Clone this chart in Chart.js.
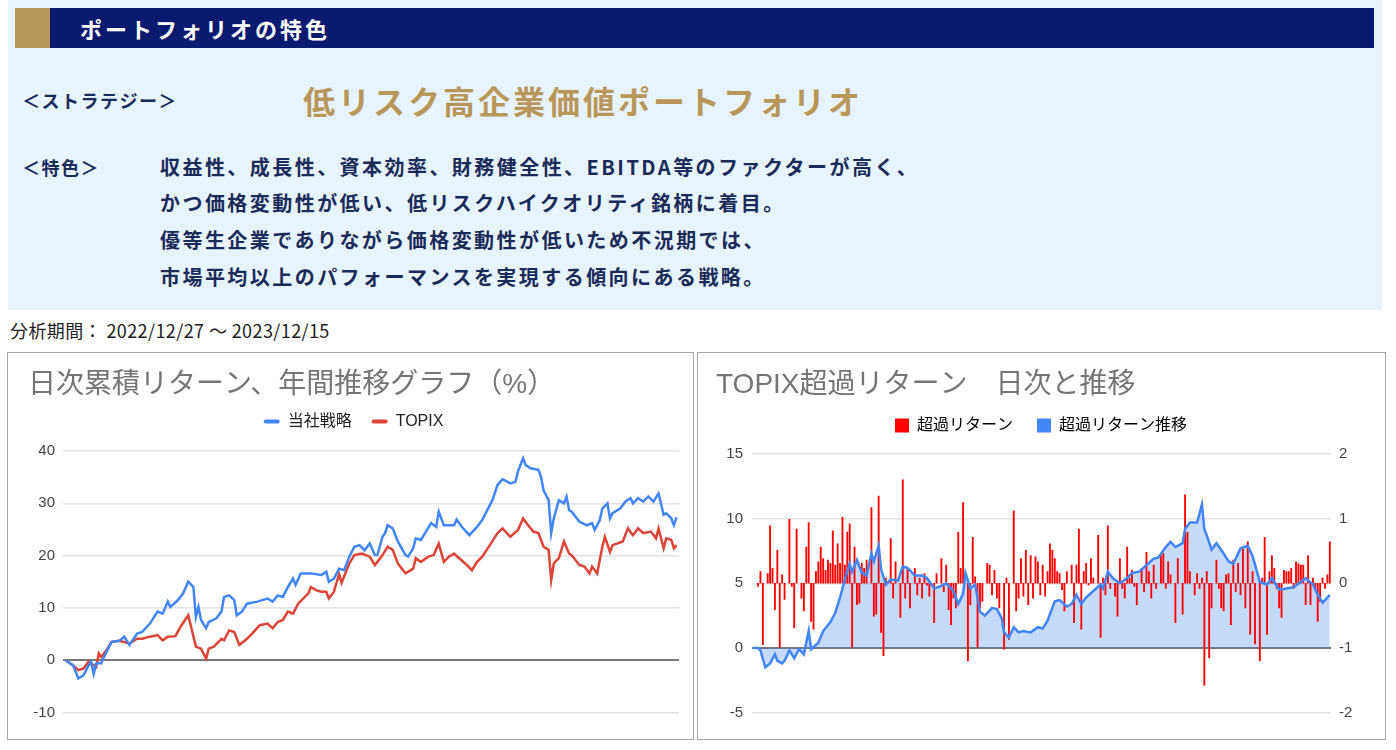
<!DOCTYPE html>
<html lang="ja">
<head>
<meta charset="utf-8">
<script src="https://cdn.jsdelivr.net/npm/chart.js@4.4.1/dist/chart.umd.min.js"></script>
<style>
  html, body { margin: 0; padding: 0; }
  body { width: 1396px; height: 750px; background: #ffffff; position: relative; overflow: hidden;
         font-family: "Noto Sans CJK JP", "Noto Sans", sans-serif; }
  .abs { position: absolute; white-space: nowrap; }
  #panel { left: 8px; top: 0; width: 1374px; height: 310px; background: #e8f4fd; }
  #hdr { left: 15px; top: 8px; width: 1359px; height: 40px; background: #0b1a6e; }
  #gold { left: 15px; top: 8px; width: 35px; height: 40px; background: #b8975a; }
  #hdrText { left: 80px; top: 8px; height: 40px; line-height: 40px; color: #fff; font-size: 22px; font-weight: 700; letter-spacing: 3px; }
  .lbl { color: #1c2a5a; font-size: 18px; font-weight: 700; letter-spacing: 1.5px; height: 30px; line-height: 30px; }
  #strat { left: 303px; top: 80px; height: 40px; line-height: 40px; color: #b8975a; font-size: 32px; font-weight: 700; letter-spacing: 3px; }
  #body { left: 160px; top: 148.6px; color: #1c2a5a; font-size: 20px; font-weight: 700; letter-spacing: 2.45px; line-height: 36.7px; }
  #period { left: 10px; top: 318px; height: 24px; line-height: 24px; color: #222; font-size: 18px; letter-spacing: 0.4px; }
  .box { border: 1px solid #a6a6a6; box-sizing: border-box; background: #fff; }
</style>
</head>
<body>
<div class="abs" id="panel"></div>
<div class="abs" id="hdr"></div>
<div class="abs" id="gold"></div>
<div class="abs" id="hdrText">ポートフォリオの特色</div>
<div class="abs lbl" style="left:22px;top:85px;">＜ストラテジー＞</div>
<div class="abs" id="strat">低リスク高企業価値ポートフォリオ</div>
<div class="abs lbl" style="left:22px;top:152px;">＜特色＞</div>
<div class="abs" id="body">収益性、成長性、資本効率、財務健全性、EBITDA等のファクターが高く、<br>かつ価格変動性が低い、低リスクハイクオリティ銘柄に着目。<br>優等生企業でありながら価格変動性が低いため不況期では、<br>市場平均以上のパフォーマンスを実現する傾向にある戦略。</div>
<div class="abs" id="period">分析期間： 2022/12/27 ～ 2023/12/15</div>

<div class="abs box" style="left:7px;top:352px;width:687px;height:388px;"></div>
<div class="abs box" style="left:697px;top:352px;width:689px;height:388px;"></div>
<canvas id="c1" class="abs" style="left:8px;top:353px;" width="685" height="386"></canvas>
<canvas id="c2" class="abs" style="left:698px;top:353px;" width="687" height="386"></canvas>

<script>
// ---- Data (trading-day index from 2022/12/27, value) ----
const leftTitle = '日次累積リターン、年間推移グラフ（%）';
const rightTitle = 'TOPIX超過リターン　日次と推移';
const seriesNames = ['当社戦略', 'TOPIX'];
const excessNames = ['超過リターン', '超過リターン推移'];
const leftTicks = [-10, 0, 10, 20, 30, 40];
const rightLeftTicks = [-5, 0, 5, 10, 15];
const rightRightTicks = [-2, -1, 0, 1, 2];

// 当社戦略 cumulative return (%)
const strategySeries = [[0,0],[3,-1],[5,-3.5],[7,-2.9],[9,-1],[10,-0.3],[11,-2.6],[12,-0.6],[14,-0.6],[15,0.6],[18,3.5],[21,3.7],[23,4.5],[25,2.9],[28,5.1],[30,5.4],[33,7],[36,9.3],[38,8.9],[40,11.2],[41,10.2],[44,11.5],[46,12.8],[48,15],[50,14],[51,8.3],[52,10.2],[53,7.7],[55,6.1],[56,7.3],[59,8],[61,9.3],[62,12.1],[64,12.4],[66,11.5],[67,8.6],[69,9.3],[71,10.8],[75,11.2],[79,11.8],[81,11.2],[83,12.4],[85,12.1],[87,14],[89,15.6],[90,14.4],[92,16.6],[96,16.6],[100,16.3],[102,16.9],[103,15],[105,15.6],[107,17.5],[109,17.2],[111,19.8],[113,21.7],[115,22],[117,21],[119,22.3],[121,20.1],[122,20.1],[124,23.6],[125,24.3],[126,25.8],[128,25.2],[130,22.7],[133,20.1],[134,19.8],[136,21.4],[137,23.3],[139,23],[141,24.6],[143,26.2],[145,25.5],[146,28.4],[148,25.8],[152,25.8],[153,26.9],[155,25.5],[158,23.9],[161,25.5],[163,26.8],[165,28.7],[167,30.6],[169,33.5],[171,34.6],[174,33.8],[176,34.1],[177,36.1],[179,38.6],[180,37.3],[182,36.7],[185,36.4],[186,35.1],[187,32.5],[189,30.6],[190,24.3],[191,27.1],[193,30.6],[195,30],[196,31.3],[197,28.7],[198,28.4],[201,26.5],[204,25.8],[206,26.2],[207,24.9],[209,26.8],[210,29],[212,30],[213,27.1],[214,28.1],[217,29],[219,30.3],[221,31],[222,30],[224,31],[226,30.3],[228,31.3],[230,30.3],[232,31.9],[234,27.8],[235,28.1],[237,27.1],[238,25.8],[239,27.3]];

// TOPIX cumulative return (%)
const topixSeries = [[0,0],[3,-1],[5,-1.9],[7,-1.6],[9,-0.3],[10,-0.6],[12,-1.3],[13,1.3],[14,0.6],[16,1.9],[18,3.5],[21,3.7],[25,3.2],[28,4.1],[30,4.1],[33,4.5],[36,4.8],[38,3.8],[40,4.5],[43,4.6],[45,6.4],[48,8.6],[51,2.6],[53,2.2],[55,0.3],[56,2.2],[58,2.6],[61,4.1],[62,3.8],[64,5.7],[66,5.4],[68,2.9],[71,4.1],[73,5.1],[76,6.7],[79,7],[81,6.1],[83,7.3],[85,7.7],[87,9.3],[89,8.9],[91,10.8],[95,12.8],[96,14],[98,13.4],[100,13.1],[102,13.1],[103,11.8],[105,13.1],[107,16.5],[108,14.8],[111,18.5],[113,20.1],[116,20.4],[119,19.8],[121,18.2],[122,18.8],[124,20.1],[126,21.7],[128,21.1],[130,18.5],[133,16.6],[136,17.5],[137,19.5],[139,18.8],[142,19.8],[144,20.1],[146,22.3],[148,18.8],[150,19.8],[152,20.4],[154,19.5],[157,18.2],[159,17.2],[161,18.8],[163,19.8],[166,22],[169,24.3],[171,25.2],[174,23.6],[177,24.9],[179,27.1],[181,25.8],[183,24.6],[185,24.3],[187,21.7],[189,21.1],[190,15.3],[191,18.5],[193,19.5],[195,22.7],[197,20.4],[198,20.1],[201,18.2],[203,17.9],[205,16.6],[206,17.9],[208,16.6],[210,21.7],[211,23.6],[213,20.7],[214,22],[218,22.7],[220,25.2],[222,23.9],[224,25.2],[226,24.3],[229,24.6],[231,23.3],[232,25.2],[234,21.4],[235,23.3],[237,23],[238,21.4],[239,22]];

// 超過リターン推移 (cumulative excess, left axis)
const trendSeries = [[0,0],[2,0],[3,-0.2],[5,-1.5],[7,-1.2],[9,-0.5],[10,-1],[12,-1.2],[13,-1],[15,-0.2],[17,-0.8],[19,-0.1],[21,-0.5],[23,1.3],[24,-0.1],[27,0.4],[29,1.3],[32,2],[34,2.7],[36,3.9],[38,5.3],[40,6.5],[41,5.9],[43,6.8],[45,5.8],[47,5.6],[49,7.3],[50,6.7],[52,7.9],[53,6.1],[55,4.9],[57,5.3],[60,5.2],[62,6.3],[64,6.2],[67,5.6],[70,5.6],[72,5.4],[75,4.6],[78,4.8],[80,5],[83,4.4],[85,3.4],[87,4.2],[88,5.8],[90,4.6],[92,4.9],[94,2.8],[96,2.5],[99,3.1],[101,3],[103,2.3],[104,1.2],[106,0.8],[108,1.6],[110,1.2],[112,1.3],[115,1.2],[118,1.6],[120,1.5],[122,2.1],[125,3.6],[127,3.7],[130,3.2],[132,3.4],[134,4.1],[136,3.4],[138,3.9],[141,4.4],[144,4.9],[145,4.6],[147,5.9],[149,5.4],[152,5],[155,5.4],[157,5.8],[160,5.9],[163,6.4],[166,6.9],[168,7],[171,7.8],[173,8.2],[175,7.8],[178,8.1],[179,9.2],[181,9.7],[184,9.7],[186,11.1],[187,9.2],[188,8.7],[190,7.6],[192,8.1],[195,7.3],[197,6.7],[199,6.5],[202,7.7],[205,7.9],[207,7.1],[210,5.1],[213,4.9],[215,5.4],[218,4.5],[221,4.6],[224,4.7],[227,5.1],[229,5.4],[232,4.9],[234,4.1],[236,3.5],[239,4.1]];

// 超過リターン (daily excess, right axis)
const dailySeries = [[2,-0.05],[3,0.18],[4,-0.95],[6,0.15],[7,0.89],[8,0.23],[9,-0.41],[10,0.51],[11,-0.99],[12,0.13],[13,-0.25],[15,0.99],[16,-0.05],[17,-0.69],[18,0.84],[20,-0.23],[21,-0.43],[22,0.56],[23,0.94],[24,-0.59],[25,-0.71],[26,0.18],[27,0.33],[28,0.56],[29,0.38],[30,0.2],[31,0.36],[32,0.31],[33,0.81],[34,0.28],[35,0.61],[36,0.31],[37,1.02],[38,0.28],[39,0.79],[40,0.92],[41,-0.99],[42,0.56],[43,-0.33],[44,-0.31],[45,0.31],[46,0.23],[47,0.36],[49,1.17],[50,-0.51],[51,-0.48],[52,1.35],[53,-0.76],[54,-1.12],[55,0.08],[57,0.69],[58,-0.23],[59,0.33],[61,-0.53],[62,1.6],[63,-0.23],[64,0.23],[65,-0.38],[67,0.23],[68,-0.18],[69,0.08],[70,-0.23],[71,0.15],[72,-0.03],[73,-0.2],[75,-0.61],[76,0.15],[78,0.38],[79,-0.13],[80,0.28],[81,-0.41],[82,-0.64],[83,-0.23],[84,-0.38],[85,0.79],[86,0.23],[87,1.25],[89,-1.2],[90,-0.33],[91,0.71],[92,0.1],[93,-0.99],[94,-0.38],[95,-0.28],[97,0.31],[98,0.28],[99,-0.18],[100,0.2],[101,-0.23],[102,-0.38],[104,-1.02],[105,0.08],[106,-0.87],[108,1.12],[109,-0.43],[110,-0.23],[111,0.38],[112,-0.2],[113,0.51],[114,-0.33],[115,0.43],[116,-0.23],[117,0.41],[118,0.33],[119,-0.18],[120,0.28],[121,-0.2],[122,0.18],[123,0.61],[124,0.51],[125,0.38],[126,0.18],[127,0.15],[128,-0.1],[129,-0.43],[130,0.18],[132,0.28],[133,-0.61],[134,0.28],[135,0.84],[136,-0.71],[137,0.18],[138,0.31],[139,-0.03],[140,0.38],[141,0.08],[143,0.74],[144,-0.84],[145,0.08],[146,-0.18],[147,0.89],[148,-0.08],[150,-0.2],[151,-0.51],[152,0.38],[153,-0.08],[154,-0.23],[155,0.56],[156,0.08],[157,0.2],[158,-0.05],[159,-0.33],[161,0.23],[162,-0.13],[163,0.48],[164,0.18],[165,-0.23],[166,0.28],[167,-0.08],[169,0.43],[170,0.46],[171,-0.08],[172,0.33],[173,0.13],[175,-0.61],[176,0.38],[178,-0.48],[179,1.37],[180,0.79],[181,0.18],[183,-0.18],[184,0.15],[185,-0.08],[186,0.08],[187,-1.58],[188,0.18],[189,-1.15],[190,-0.38],[192,0.36],[193,-0.08],[194,-0.38],[195,-0.43],[196,0.13],[197,0.15],[198,-0.64],[199,0.36],[200,-0.13],[201,0.31],[202,-0.18],[203,0.53],[204,-0.38],[205,0.64],[206,-0.79],[207,0.18],[208,-0.94],[210,-1.2],[211,0.08],[212,0.71],[213,-0.79],[214,0.18],[215,0.43],[216,0.23],[217,-0.08],[218,-0.38],[219,-0.53],[220,0.2],[221,0.18],[222,0.18],[223,0.23],[224,-0.08],[225,0.33],[226,0.3],[227,0.28],[228,0.28],[229,-0.33],[230,0.43],[231,-0.33],[232,0.08],[233,-0.1],[234,-0.59],[235,-0.28],[236,0.08],[237,-0.08],[238,0.13],[239,0.64]];

// ---- Chart setup ----
const FONT = "'Liberation Sans', 'Noto Sans CJK JP', sans-serif";
const toXY = arr => arr.map(p => ({ x: p[0], y: p[1] }));
const gridColor = c => (c.tick && c.tick.value === 0) ? '#777777' : '#e3e3e3';
const gridWidth = c => (c.tick && c.tick.value === 0) ? 2 : 1.5;
const fixedTicks = list => (axis) => { axis.ticks = list.map(v => ({ value: v })); };

function titleOpts(text) {
  return { display: true, text: text, align: 'start', color: '#757575',
           font: { family: FONT, size: 28, weight: 'normal', lineHeight: 0.6 },
           padding: { top: 23.6, bottom: 0 } };
}
function spacer(h) {
  return { display: true, text: '', weight: 500, font: { size: 10, lineHeight: 1 },
           padding: { top: h - 10, bottom: 0 } };
}

function draw() {
  Chart.defaults.font.family = FONT;

  new Chart(document.getElementById('c1'), {
    type: 'line',
    data: {
      datasets: [
        { label: seriesNames[0], data: toXY(strategySeries), borderColor: '#4285f4', backgroundColor: '#4285f4',
          borderWidth: 2.5, pointRadius: 0, tension: 0, fill: false },
        { label: seriesNames[1], data: toXY(topixSeries), borderColor: '#db4437', backgroundColor: '#db4437',
          borderWidth: 2.5, pointRadius: 0, tension: 0, fill: false }
      ]
    },
    options: {
      responsive: false, animation: false, devicePixelRatio: 1,
      layout: { padding: { left: 20, right: 14, top: 0, bottom: 26.5 } },
      plugins: {
        title: titleOpts(leftTitle),
        subtitle: spacer(11.6),
        legend: {
          display: true, position: 'top', align: 'center',
          labels: {
            boxWidth: 16, boxHeight: 4, padding: 20, color: '#222',
            font: { family: FONT, size: 16 }, useBorderRadius: true, borderRadius: 2,
            generateLabels: (chart) => Chart.defaults.plugins.legend.labels.generateLabels(chart)
              .map(it => Object.assign(it, { lineWidth: 0, strokeStyle: 'rgba(0,0,0,0)' }))
          }
        },
        tooltip: { enabled: false }
      },
      scales: {
        x: { type: 'linear', min: -1, max: 240, display: false },
        y: {
          min: leftTicks[0], max: leftTicks[leftTicks.length - 1],
          afterBuildTicks: fixedTicks(leftTicks),
          afterFit: (s) => { s.width = 35; },
          border: { display: false },
          grid: { color: gridColor, lineWidth: gridWidth, drawTicks: false },
          ticks: { padding: 8, color: '#444', font: { family: FONT, size: 15 } }
        }
      }
    }
  });

  new Chart(document.getElementById('c2'), {
    type: 'bar',
    data: {
      datasets: [
        { type: 'bar', label: excessNames[0], data: toXY(dailySeries), yAxisID: 'y1',
          backgroundColor: '#ff0000', borderWidth: 0, barThickness: 1.2, order: 2 },
        { type: 'line', label: excessNames[1], data: toXY(trendSeries), yAxisID: 'y',
          borderColor: '#4285f4', backgroundColor: 'rgba(66,133,244,0.30)', borderWidth: 2.5,
          pointRadius: 0, tension: 0, fill: 'origin', order: 1 }
      ]
    },
    options: {
      responsive: false, animation: false, devicePixelRatio: 1,
      layout: { padding: { left: 18, right: 19, top: 0, bottom: 26.5 } },
      plugins: {
        filler: { drawTime: 'beforeDatasetsDraw' },
        title: titleOpts(rightTitle),
        subtitle: spacer(10.6),
        legend: {
          display: true, position: 'top', align: 'center',
          labels: {
            boxWidth: 14, boxHeight: 14, padding: 24, color: '#222',
            font: { family: FONT, size: 16 },
            generateLabels: (chart) => chart.data.datasets.map((ds, i) => ({
              text: ds.label, datasetIndex: i, hidden: false, lineWidth: 0,
              strokeStyle: 'rgba(0,0,0,0)',
              fillStyle: i === 0 ? ds.backgroundColor : ds.borderColor
            }))
          }
        },
        tooltip: { enabled: false }
      },
      scales: {
        x: { type: 'linear', min: -0.5, max: 239.5, display: false, offset: false },
        y: {
          position: 'left',
          min: rightLeftTicks[0], max: rightLeftTicks[rightLeftTicks.length - 1],
          afterBuildTicks: fixedTicks(rightLeftTicks),
          afterFit: (s) => { s.width = 36; },
          border: { display: false },
          grid: { color: gridColor, lineWidth: gridWidth, drawTicks: false },
          ticks: { padding: 9, color: '#444', font: { family: FONT, size: 15 } }
        },
        y1: {
          position: 'right',
          min: rightRightTicks[0], max: rightRightTicks[rightRightTicks.length - 1],
          afterBuildTicks: fixedTicks(rightRightTicks),
          afterFit: (s) => { s.width = 35; },
          border: { display: false },
          grid: { display: false, drawTicks: false },
          ticks: { padding: 8, color: '#444', font: { family: FONT, size: 15 } }
        }
      }
    }
  });
}

if (document.fonts && document.fonts.load) {
  Promise.all([
    document.fonts.load("16px 'Noto Sans CJK JP'"),
    document.fonts.load("15px 'Liberation Sans'")
  ]).then(draw, draw);
} else {
  draw();
}
</script>
</body>
</html>
